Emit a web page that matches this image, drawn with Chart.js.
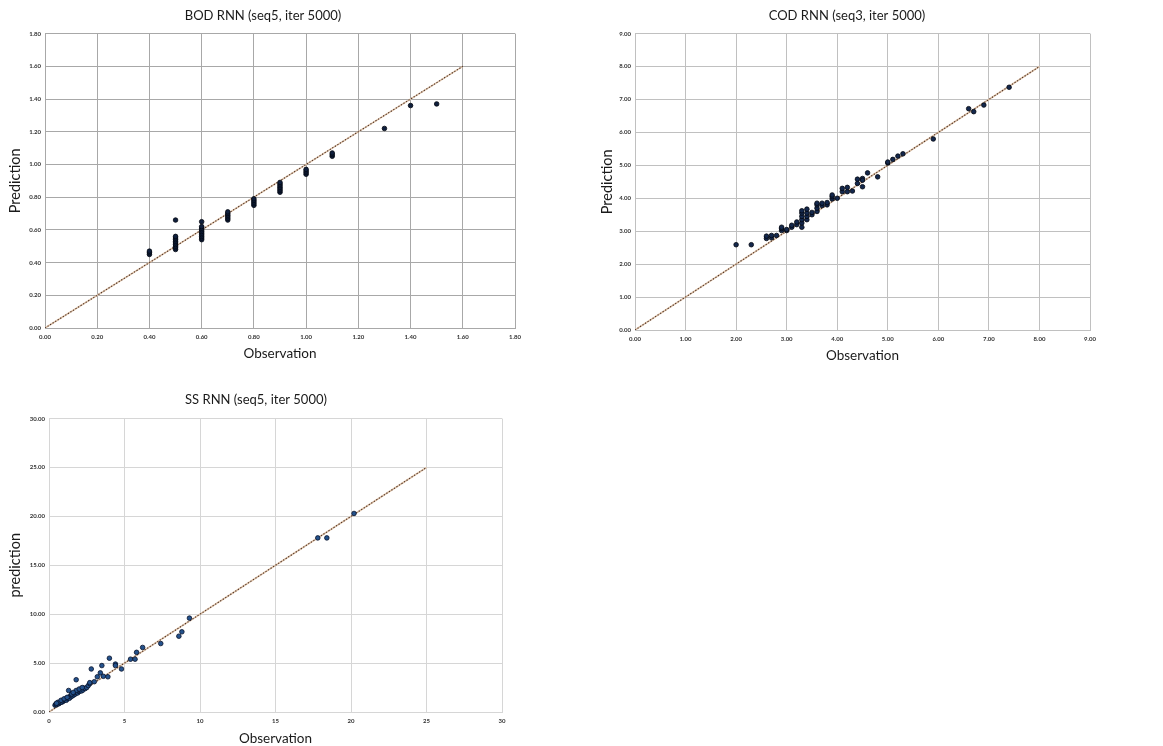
<!DOCTYPE html>
<html>
<head>
<meta charset="utf-8">
<script src="https://cdn.jsdelivr.net/npm/chart.js@4.4.1/dist/chart.umd.min.js"></script>
<style>
  html, body { margin: 0; padding: 0; background: #fff; width: 1163px; height: 746px; overflow: hidden; position: relative; }
  .box { position: absolute; }
</style>
</head>
<body>
<div class="box" id="b1" style="left:0px;top:0px;width:526px;height:370px;"><canvas id="c1"></canvas></div>
<div class="box" id="b2" style="left:580px;top:0px;width:534px;height:370px;"><canvas id="c2"></canvas></div>
<div class="box" id="b3" style="left:0px;top:380px;width:512px;height:370px;"><canvas id="c3"></canvas></div>
<script>
// ---------------- DATA ----------------
const bodTitle = "BOD RNN (seq5, iter 5000)";
const bodObs  = [0.4,0.4,0.4, 0.5,0.5,0.5,0.5,0.5,0.5,0.5,0.5,0.5,0.5, 0.6,0.6,0.6,0.6,0.6,0.6,0.6,0.6,0.6,0.6, 0.7,0.7,0.7,0.7,0.7,0.7, 0.8,0.8,0.8,0.8,0.8, 0.9,0.9,0.9,0.9,0.9,0.9,0.9, 1.0,1.0,1.0,1.0, 1.1,1.1,1.1, 1.3, 1.4, 1.5];
const bodPred = [0.45,0.46,0.47, 0.48,0.49,0.50,0.51,0.52,0.53,0.54,0.55,0.56,0.66, 0.54,0.55,0.56,0.57,0.58,0.59,0.60,0.61,0.62,0.65, 0.66,0.67,0.68,0.69,0.70,0.71, 0.75,0.76,0.77,0.78,0.79, 0.83,0.84,0.85,0.86,0.87,0.88,0.89, 0.94,0.95,0.96,0.97, 1.05,1.06,1.07, 1.22, 1.36, 1.37];
const bodLine = [0, 1.6];
const bodTicks = [0,0.2,0.4,0.6,0.8,1.0,1.2,1.4,1.6,1.8];

const codTitle = "COD RNN (seq3, iter 5000)";
const codObs  = [2.0,2.3,2.6,2.6,2.7,2.7,2.8,2.9,2.9,2.9,3.0,3.0,3.1,3.1,3.2,3.2,3.3,3.3,3.3,3.3,3.3,3.3,3.4,3.4,3.4,3.4,3.5,3.5,3.6,3.6,3.6,3.6,3.7,3.7,3.8,3.8,3.9,3.9,3.9,4.0,4.1,4.1,4.2,4.2,4.3,4.4,4.4,4.5,4.5,4.5,4.6,4.8,5.0,5.0,5.1,5.2,5.3,5.9,6.6,6.7,6.9,7.4];
const codPred = [2.59,2.59,2.78,2.85,2.80,2.87,2.87,3.02,3.08,3.12,3.02,3.05,3.12,3.18,3.20,3.28,3.12,3.25,3.35,3.45,3.55,3.62,3.35,3.45,3.55,3.67,3.50,3.57,3.60,3.70,3.80,3.85,3.78,3.85,3.80,3.87,3.98,4.05,4.10,4.00,4.20,4.30,4.20,4.33,4.22,4.45,4.58,4.60,4.35,4.55,4.77,4.65,5.07,5.10,5.18,5.28,5.35,5.80,6.72,6.63,6.83,7.37];
const codLine = [0, 8];
const codTicks = [0,1,2,3,4,5,6,7,8,9];

const ssTitle = "SS RNN (seq5, iter 5000)";
const ssObs  = [0.4,0.45,0.5,0.55,0.6,0.65,0.7,0.75,0.8,0.85,0.9,0.95,1.0,1.05,1.1,1.15,1.2,1.25,1.3,1.35,1.4,1.45,1.5,1.55,1.6,1.65,1.7,1.75,1.8,1.85,1.9,1.95,2.0,2.05,2.1,2.15,2.2,2.25,2.3,2.4,2.5,2.6,2.7,2.7,0.6,0.8,1.0,1.2,1.5,1.8,2.0,2.2,1.6,0.5,
                1.3,1.8,2.8,3.0,3.2,3.4,3.5,3.6,3.9,4.0,4.4,4.4,4.8,5.4,5.7,5.8,6.2,7.4,8.6,8.8,9.3,17.8,18.4,20.2];
const ssPred = [0.70,0.80,0.75,0.85,0.90,0.85,0.95,1.00,1.05,1.00,1.15,1.10,1.20,1.25,1.30,1.20,1.35,1.45,1.50,1.40,1.60,1.55,1.70,1.65,1.80,1.75,1.90,1.85,2.00,2.10,1.95,2.15,2.10,2.20,2.30,2.15,2.35,2.25,2.45,2.40,2.50,2.70,2.90,3.00,1.00,1.20,1.35,1.50,1.85,2.20,2.35,2.50,2.00,0.90,
                2.20,3.30,4.40,3.10,3.60,4.00,4.75,3.65,3.60,5.50,4.90,4.75,4.40,5.40,5.40,6.10,6.60,7.00,7.75,8.20,9.60,17.80,17.80,20.30];
const ssLine = [0, 25];
const ssTicks = [0,5,10,15,20,25,30];

// ---------------- HELPERS ----------------
const FONT = "Lato, 'Open Sans', sans-serif";
function pts(xs, ys) { return xs.map((x, i) => ({ x: x, y: ys[i] })); }
function linePts(l) { return l.map(v => ({ x: v, y: v })); }

function makeChart(id, cfg) {
  const { title, obs, pred, line, ticks, yLabel, yW, rW, xH, titleTop, titleBottom,
          yTitlePad, xTitlePad, xFmt, yFmt, grid, fill, stroke } = cfg;
  const ctx = document.getElementById(id);
  const tMin = ticks[0], tMax = ticks[ticks.length - 1];
  return new Chart(ctx, {
    data: {
      datasets: [
        { type: 'line', data: linePts(line), borderColor: '#dcc0a6', borderWidth: 1.6, pointRadius: 0, fill: false, order: 3 },
        { type: 'line', data: linePts(line), borderColor: '#4a2e22', borderWidth: 1.1, borderDash: [1.2, 1.8], pointRadius: 0, fill: false, order: 2 },
        { type: 'scatter', data: pts(obs, pred), backgroundColor: fill, borderColor: stroke, borderWidth: 0.8, pointRadius: 2.3, order: 1 }
      ]
    },
    options: {
      responsive: true,
      maintainAspectRatio: false,
      animation: false,
      layout: { padding: 0 },
      plugins: {
        legend: { display: false },
        tooltip: { enabled: false },
        title: {
          display: true, text: title, color: '#1a1a1a',
          font: { family: FONT, size: 13, weight: 'normal' },
          padding: { top: titleTop, bottom: titleBottom }
        }
      },
      scales: {
        x: {
          type: 'linear', position: 'bottom', min: tMin, max: tMax,
          afterBuildTicks: (s) => { s.ticks = ticks.map(v => ({ value: v })); },
          afterFit: (s) => { s.height = xH; },
          ticks: { font: { family: FONT, size: 6, weight: 'bold' }, color: '#333', padding: 5, maxRotation: 0, autoSkip: false,
                   callback: (v) => xFmt(v) },
          grid: { color: grid, lineWidth: 1, drawTicks: false },
          border: { color: grid, width: 1 },
          title: { display: true, text: 'Observation', color: '#1a1a1a', font: { family: FONT, size: 13.5 }, padding: { top: 0, bottom: xTitlePad } }
        },
        y: {
          type: 'linear', position: 'left', min: tMin, max: tMax,
          afterBuildTicks: (s) => { s.ticks = ticks.map(v => ({ value: v })); },
          afterFit: (s) => { s.width = yW; },
          ticks: { font: { family: FONT, size: 6, weight: 'bold' }, color: '#333', padding: 4, autoSkip: false,
                   callback: (v) => yFmt(v) },
          grid: { color: grid, lineWidth: 1, drawTicks: false },
          border: { color: grid, width: 1 },
          title: { display: true, text: yLabel, color: '#1a1a1a', font: { family: FONT, size: 14.5 }, padding: { top: yTitlePad, bottom: 0 } }
        },
        r: {
          type: 'linear', position: 'right', display: true,
          afterFit: (s) => { s.width = rW; },
          ticks: { display: false }, grid: { display: false, drawTicks: false }, border: { display: false }
        }
      }
    }
  });
}

const f2 = (v) => Number(v).toFixed(2);
const f0 = (v) => String(Math.round(v));

makeChart('c1', { title: bodTitle, obs: bodObs, pred: bodPred, line: bodLine, ticks: bodTicks, yLabel: 'Prediction',
  yW: 45, rW: 11, xH: 42, titleTop: 8, titleBottom: 10, yTitlePad: 7, xTitlePad: 8.5, xFmt: f2, yFmt: f2, grid: '#a8a8a8',
  fill: '#0f1f3d', stroke: '#03060f' });
makeChart('c2', { title: codTitle, obs: codObs, pred: codPred, line: codLine, ticks: codTicks, yLabel: 'Prediction',
  yW: 55, rW: 24, xH: 40, titleTop: 8, titleBottom: 10, yTitlePad: 19, xTitlePad: 6.5, xFmt: f2, yFmt: f2, grid: '#c0c0c0',
  fill: '#14284d', stroke: '#03060f' });
makeChart('c3', { title: ssTitle, obs: ssObs, pred: ssPred, line: ssLine, ticks: ssTicks, yLabel: 'prediction',
  yW: 49, rW: 10, xH: 38, titleTop: 12.5, titleBottom: 10.5, yTitlePad: 7, xTitlePad: 3.5, xFmt: f0, yFmt: f2, grid: '#d6d6d6',
  fill: '#24528c', stroke: '#07112a' });
</script>
</body>
</html>
